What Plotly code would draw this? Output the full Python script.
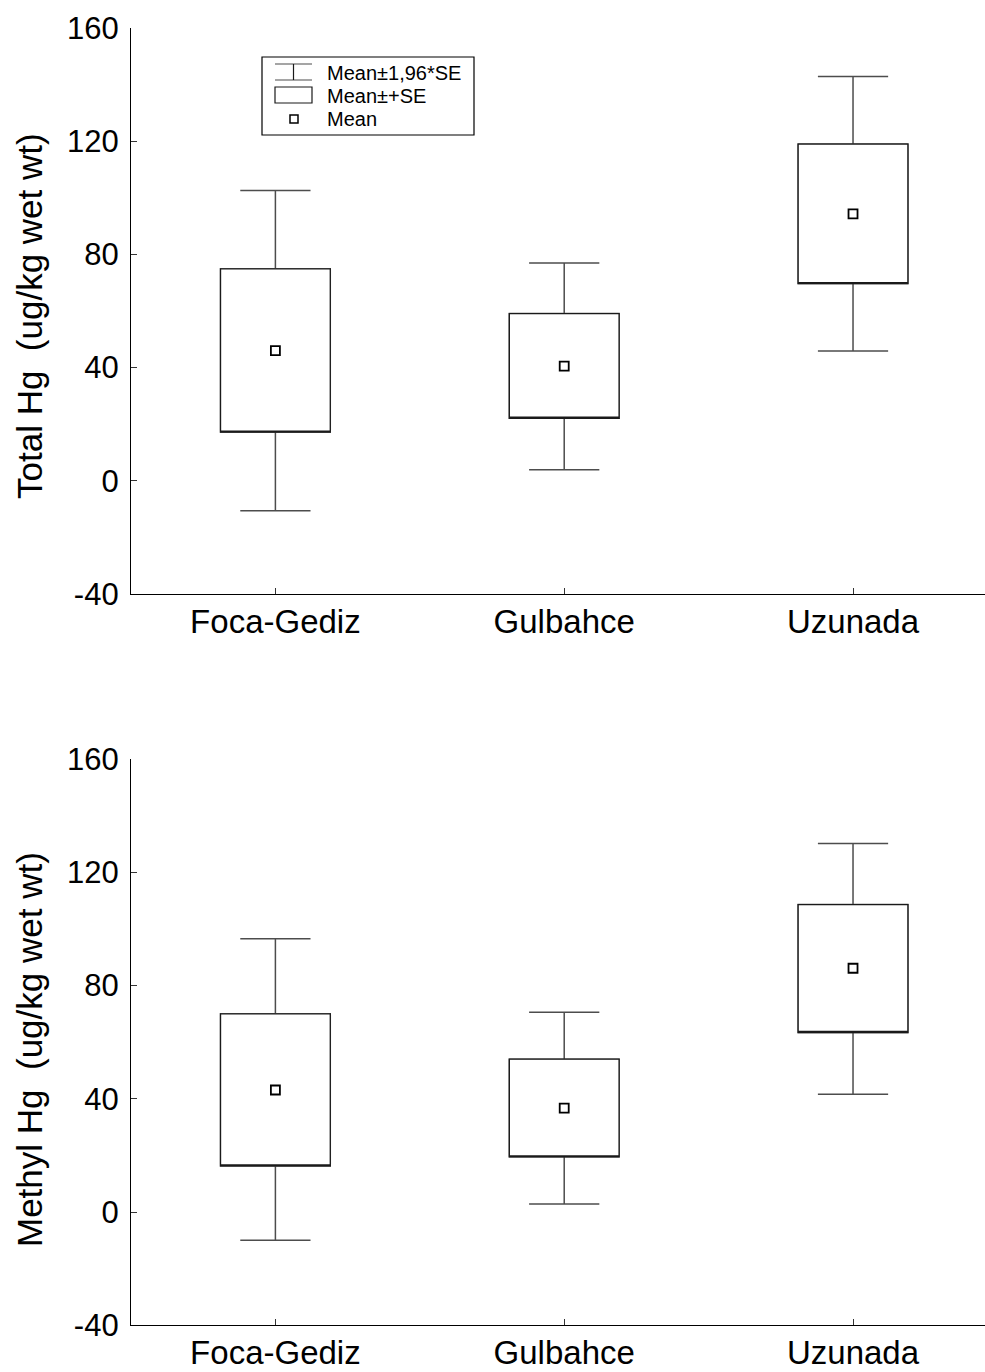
import plotly.graph_objects as go

# Sampling sites
sites = ["Foca-Gediz", "Gulbahce", "Uzunada"]

# Total Hg (ug/kg wet wt): mean, mean-SE, mean+SE, mean-1.96*SE, mean+1.96*SE
thg_mean = [46.0, 40.5, 94.3]
thg_se_lo = [17.2, 22.1, 69.7]
thg_se_hi = [74.9, 59.1, 119.0]
thg_ci_lo = [-10.6, 3.9, 45.9]
thg_ci_hi = [102.6, 77.0, 142.9]

# Methyl Hg (ug/kg wet wt)
mhg_mean = [43.1, 36.7, 86.1]
mhg_se_lo = [16.3, 19.5, 63.4]
mhg_se_hi = [70.0, 54.0, 108.6]
mhg_ci_lo = [-10.0, 2.8, 41.6]
mhg_ci_hi = [96.5, 70.6, 130.2]

y_ticks = [-40, 0, 40, 80, 120, 160]
y_tick_text = ["-40", "0", "40", "80", "120", "160"]

W, H = 985, 1372
FONT = "Liberation Sans, Arial, Helvetica, sans-serif"
BOX_LINE = "#1a1a1a"
WHISK_LINE = "#4d4d4d"


def px(x):
    return x / W


def py(y):
    return 1 - y / H


fig = go.Figure()


def add_panel(xa, ya, mean, se_lo, se_hi, ci_lo, ci_hi):
    # whiskers (mean +/- 1.96*SE) with caps
    fig.add_trace(go.Box(
        x=sites, q1=se_lo, median=se_lo, q3=se_hi,
        lowerfence=ci_lo, upperfence=ci_hi,
        width=0.38, whiskerwidth=0.64,
        fillcolor="white", line=dict(color=WHISK_LINE, width=1.5),
        boxpoints=False, showlegend=False, hoverinfo="skip",
        xaxis=xa, yaxis=ya,
    ))
    # box (mean +/- SE)
    fig.add_trace(go.Box(
        x=sites, q1=se_lo, median=se_lo, q3=se_hi,
        lowerfence=se_lo, upperfence=se_hi,
        width=0.38, whiskerwidth=0,
        fillcolor="white", line=dict(color=BOX_LINE, width=1.3),
        boxpoints=False, showlegend=False, hoverinfo="skip",
        xaxis=xa, yaxis=ya,
    ))
    # mean marker
    fig.add_trace(go.Scatter(
        x=sites, y=mean, mode="markers",
        marker=dict(symbol="square", size=9, color="white",
                    line=dict(color="black", width=1.8)),
        showlegend=False, hoverinfo="skip",
        xaxis=xa, yaxis=ya,
    ))


add_panel("x", "y", thg_mean, thg_se_lo, thg_se_hi, thg_ci_lo, thg_ci_hi)
add_panel("x2", "y2", mhg_mean, mhg_se_lo, mhg_se_hi, mhg_ci_lo, mhg_ci_hi)

x_dom = [px(131), 1.0]
top_dom = [py(594), py(28)]
bot_dom = [py(1325.3), py(759)]

xaxis_common = dict(
    type="category", categoryorder="array", categoryarray=sites,
    range=[-0.5, 2.457], domain=x_dom, automargin=False,
    showline=True, linecolor="black", linewidth=1.3,
    ticks="inside", ticklen=6, tickcolor="#333", tickwidth=1,
    showgrid=False, zeroline=False,
    tickfont=dict(family=FONT, size=33, color="black"),
    ticklabelstandoff=-2,
)
yaxis_common = dict(
    range=[-40, 160], tickvals=y_ticks, ticktext=y_tick_text,
    automargin=False,
    showline=True, linecolor="black", linewidth=1.3,
    ticks="inside", ticklen=6, tickcolor="#333", tickwidth=1,
    showgrid=False, zeroline=False,
    tickfont=dict(family=FONT, size=31, color="black"),
    ticklabelstandoff=5,
)

fig.update_layout(
    width=W, height=H,
    margin=dict(l=0, r=0, t=0, b=0, autoexpand=False),
    paper_bgcolor="white", plot_bgcolor="white",
    boxmode="overlay",
    font=dict(family=FONT, color="black"),
    xaxis=dict(anchor="y", **xaxis_common),
    yaxis=dict(anchor="x", domain=top_dom, **yaxis_common),
    xaxis2=dict(anchor="y2", **xaxis_common),
    yaxis2=dict(anchor="x2", domain=bot_dom, **yaxis_common),
)

# y-axis titles
for text, yc in [("Total Hg  (ug/kg wet wt)", 316), ("Methyl Hg  (ug/kg wet wt)", 1050)]:
    fig.add_annotation(
        text=text, xref="paper", yref="paper", x=px(29), y=py(yc),
        textangle=-90, showarrow=False, xanchor="center", yanchor="middle",
        font=dict(family=FONT, size=35, color="black"),
    )

# legend key in the upper panel
P = dict(xref="paper", yref="paper")
shapes = [
    dict(type="rect", x0=px(262), x1=px(474), y0=py(135), y1=py(57),
         line=dict(color="black", width=1.2), fillcolor="white", **P),
    # whisker symbol
    dict(type="line", x0=px(275), x1=px(312), y0=py(64), y1=py(64),
         line=dict(color=WHISK_LINE, width=1.2), **P),
    dict(type="line", x0=px(275), x1=px(312), y0=py(80), y1=py(80),
         line=dict(color=WHISK_LINE, width=1.2), **P),
    dict(type="line", x0=px(293.5), x1=px(293.5), y0=py(64), y1=py(80),
         line=dict(color=BOX_LINE, width=1.2), **P),
    # box symbol
    dict(type="rect", x0=px(275), x1=px(312), y0=py(103), y1=py(87),
         line=dict(color=BOX_LINE, width=1.2), fillcolor="white", **P),
    # mean symbol
    dict(type="rect", x0=px(290), x1=px(298), y0=py(123), y1=py(115),
         line=dict(color="black", width=1.5), fillcolor="white", **P),
]
fig.update_layout(shapes=shapes)

for text, yc in [("Mean±1,96*SE", 73), ("Mean±+SE", 96), ("Mean", 119)]:
    fig.add_annotation(
        text=text, xref="paper", yref="paper", x=px(325), y=py(yc),
        showarrow=False, xanchor="left", yanchor="middle",
        font=dict(family=FONT, size=20, color="black"),
    )

fig.write_html("out.html")
